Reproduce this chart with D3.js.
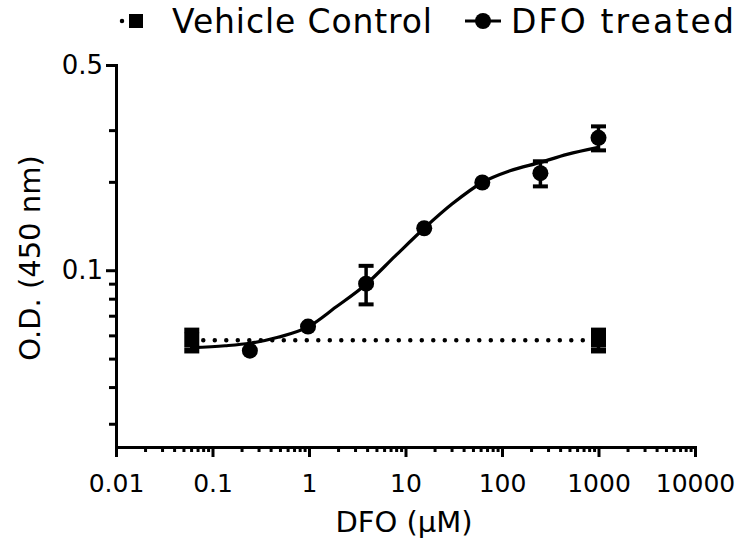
<!DOCTYPE html>
<html>
<head>
<meta charset="utf-8">
<script src="https://cdn.jsdelivr.net/npm/d3@7"></script>
<style>
  html, body { margin: 0; padding: 0; background: #fff; }
  svg { display: block; }
  text { font-family: "DejaVu Sans", sans-serif; fill: #000; }
</style>
</head>
<body>
<svg id="chart" width="741" height="543"></svg>
<script>
// ---------- data ----------
const xMajorTicks = [0.01, 0.1, 1, 10, 100, 1000, 10000];
const xTickLabels = ["0.01", "0.1", "1", "10", "100", "1000", "10000"];
const yMajorTicks = [0.1, 0.5];
const yTickLabels = ["0.1", "0.5"];
const yMinorTicks = [0.03, 0.04, 0.05, 0.06, 0.07, 0.08, 0.09, 0.2, 0.3];

const vehicleDose = [0.061, 1000];
const vehicleMean = [0.0578, 0.0578];
const vehicleSem  = [0.0046, 0.0046];

const dfoDose = [0.244, 0.977, 3.906, 15.63, 62.5, 250, 1000];
const dfoMean = [0.0532, 0.0643, 0.0900, 0.139, 0.199, 0.214, 0.2825];
const dfoSem  = [0, 0, 0.0135, 0, 0, 0.021, 0.0265];

// fitted curve
const fitDose = [0.061, 0.135, 0.244, 0.477, 0.977, 1.9, 3.906, 7.8, 15.63, 30.3, 62.5, 121, 250, 472, 1000];
const fitOD   = [0.0545, 0.0553, 0.0564, 0.0591, 0.0641, 0.0749, 0.0896, 0.1117, 0.139, 0.168, 0.199, 0.218, 0.233, 0.248, 0.262];

const legendLabels = ["Vehicle Control", "DFO treated"];

// ---------- scales ----------
const svg = d3.select("#chart");
const x = d3.scaleLog().domain([0.01, 10000]).range([116, 695]);
const y = d3.scaleLog().domain([0.025, 0.5]).range([447, 65]);

const xMinor = [];
for (let i = 0; i < xMajorTicks.length - 1; i++) {
  for (let k = 2; k <= 9; k++) xMinor.push(xMajorTicks[i] * k);
}

// ---------- axes ----------
const axisG = svg.append("g");
function styleAxis(g) {
  g.selectAll("path, line").attr("stroke", "#000").attr("stroke-width", 3);
  g.select(".domain").attr("stroke-linecap", "square");
}
// y minor
axisG.append("g").attr("transform", "translate(116,0)")
  .call(d3.axisLeft(y).tickValues(yMinorTicks).tickSize(7).tickSizeOuter(0).tickFormat(""))
  .call(styleAxis);
// y major
axisG.append("g").attr("transform", "translate(116,0)")
  .call(d3.axisLeft(y).tickValues(yMajorTicks).tickSize(10).tickSizeOuter(0).tickPadding(3)
    .tickFormat(d => yTickLabels[yMajorTicks.indexOf(d)]))
  .call(styleAxis)
  .call(g => g.selectAll("text").attr("font-size", 26).attr("font-family", "DejaVu Sans"));
// x minor
axisG.append("g").attr("transform", "translate(0,447)")
  .call(d3.axisBottom(x).tickValues(xMinor).tickSize(5).tickSizeOuter(0).tickFormat(""))
  .call(styleAxis);
// x major
axisG.append("g").attr("transform", "translate(0,447)")
  .call(d3.axisBottom(x).tickValues(xMajorTicks).tickSize(10).tickSizeOuter(0).tickPadding(17)
    .tickFormat(d => xTickLabels[xMajorTicks.indexOf(d)]))
  .call(styleAxis)
  .call(g => g.selectAll("text").attr("font-size", 25).attr("font-family", "DejaVu Sans"));

// axis titles
svg.append("text").attr("x", 404).attr("y", 532).attr("text-anchor", "middle")
  .attr("font-size", 29).text("DFO (µM)");
svg.append("text").attr("transform", "translate(40,258) rotate(-90)")
  .attr("text-anchor", "middle").attr("font-size", 29).text("O.D. (450 nm)");

// ---------- series ----------
const plot = svg.append("g");

// vehicle dotted line
plot.append("path")
  .datum(vehicleDose.map((d, i) => [d, vehicleMean[i]]))
  .attr("d", d3.line().x(d => x(d[0])).y(d => y(d[1])))
  .attr("fill", "none").attr("stroke", "#000").attr("stroke-width", 4.5)
  .attr("stroke-linecap", "round").attr("stroke-dasharray", "0 11.5");

// fitted curve
plot.append("path")
  .datum(fitDose.map((d, i) => [d, fitOD[i]]))
  .attr("d", d3.line().x(d => x(d[0])).y(d => y(d[1])).curve(d3.curveMonotoneX))
  .attr("fill", "none").attr("stroke", "#000").attr("stroke-width", 3.2);

// error bars
function errorBars(dose, mean, sem, capW) {
  const g = plot.append("g");
  dose.forEach((d, i) => {
    if (!sem[i]) return;
    const cx = x(d), y1 = y(mean[i] + sem[i]), y2 = y(mean[i] - sem[i]);
    g.append("line").attr("x1", cx).attr("x2", cx).attr("y1", y1).attr("y2", y2)
      .attr("stroke", "#000").attr("stroke-width", 3.5);
    [y1, y2].forEach(yy => g.append("line").attr("x1", cx - 7.5).attr("x2", cx + 7.5)
      .attr("y1", yy).attr("y2", yy).attr("stroke", "#000").attr("stroke-width", capW));
  });
}
errorBars(vehicleDose, vehicleMean, vehicleSem, 5.5);
errorBars(dfoDose, dfoMean, dfoSem, 4);

// vehicle squares
plot.selectAll("rect.veh").data(vehicleDose).join("rect")
  .attr("x", d => x(d) - 7.5).attr("y", (d, i) => y(vehicleMean[i]) - 7.5)
  .attr("width", 15).attr("height", 15).attr("fill", "#000");

// DFO circles
plot.selectAll("circle.dfo").data(dfoDose).join("circle")
  .attr("cx", d => x(d)).attr("cy", (d, i) => y(dfoMean[i])).attr("r", 8).attr("fill", "#000");

// ---------- legend ----------
const leg = svg.append("g");
// vehicle
leg.append("line").attr("x1", 122).attr("x2", 150).attr("y1", 21).attr("y2", 21)
  .attr("stroke", "#000").attr("stroke-width", 4.5).attr("stroke-linecap", "round")
  .attr("stroke-dasharray", "0 14");
leg.append("rect").attr("x", 129).attr("y", 14).attr("width", 14).attr("height", 14).attr("fill", "#000");
leg.append("text").attr("x", 172).attr("y", 33).attr("font-size", 33)
  .attr("textLength", 260).attr("lengthAdjust", "spacing").text(legendLabels[0]);
// DFO
leg.append("line").attr("x1", 465).attr("x2", 501).attr("y1", 21).attr("y2", 21)
  .attr("stroke", "#000").attr("stroke-width", 3.2);
leg.append("circle").attr("cx", 483).attr("cy", 21).attr("r", 8).attr("fill", "#000");
leg.append("text").attr("x", 511).attr("y", 33).attr("font-size", 33)
  .attr("textLength", 223).attr("lengthAdjust", "spacing").text(legendLabels[1]);
</script>
</body>
</html>
